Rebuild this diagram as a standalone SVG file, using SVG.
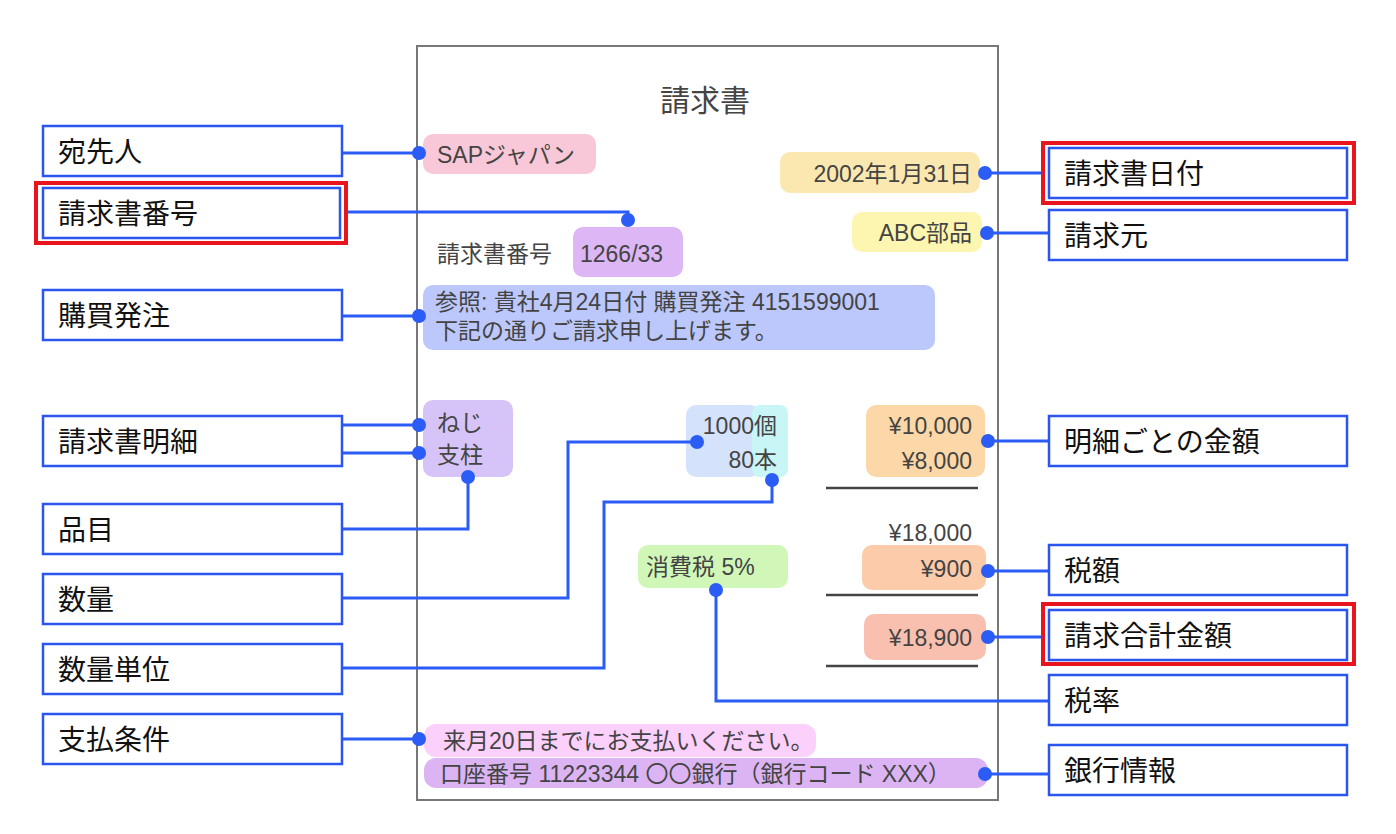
<svg xmlns="http://www.w3.org/2000/svg" width="1396" height="834" viewBox="0 0 1396 834">
<style>
text{font-family:"Liberation Sans","Noto Sans CJK JP",sans-serif;fill:#444}
.lb rect{fill:#fff;stroke:#2b55f0;stroke-width:2.5}
.lb text{font-size:28px;fill:#111}
.lb rect.red{fill:none;stroke:#e8141e;stroke-width:4}
.hl text{font-size:23px}
.c path{fill:none;stroke:#2b5cf5;stroke-width:3}
.c circle{fill:#2b5cf5}
.rule{stroke:#444;stroke-width:2.5}
</style>
<rect width="1396" height="834" fill="#fff"/>
<g id="doc">
<rect x="417" y="46" width="581" height="754" fill="#fff" stroke="#777" stroke-width="2"/>
<text x="705" y="111" font-size="30" text-anchor="middle">請求書</text>
<line class="rule" x1="826" y1="488" x2="978" y2="488"/>
<line class="rule" x1="826" y1="595" x2="978" y2="595"/>
<line class="rule" x1="826" y1="666" x2="978" y2="666"/>
</g>
<g id="highlights" class="hl">
<rect x="423" y="134" width="173" height="40" rx="10" fill="#f9c8d8"/><text x="437" y="163">SAPジャパン</text>
<rect x="780" y="152" width="200" height="41" rx="10" fill="#fbe8b0"/><text x="972" y="182" text-anchor="end">2002年1月31日</text>
<rect x="852" y="212" width="130" height="40" rx="10" fill="#fcf6b0"/><text x="972" y="241" text-anchor="end">ABC部品</text>
<text x="437" y="262" font-size="24">請求書番号</text>
<rect x="573" y="227" width="110" height="50" rx="10" fill="#dcb6f5"/><text x="580" y="262">1266/33</text>
<rect x="423" y="285" width="512" height="65" rx="10" fill="#bcc8fb"/><text x="435" y="310" font-size="20.5">参照: 貴社4月24日付 購買発注 4151599001</text><text x="435" y="339" font-size="20.5">下記の通りご請求申し上げます。</text>
<rect x="423" y="400" width="90" height="77" rx="10" fill="#d6c4f8"/><text x="437" y="431" font-size="24">ねじ</text><text x="437" y="463" font-size="24">支柱</text>
<rect x="686" y="405" width="74" height="72" rx="10" fill="#d5e2fb"/>
<rect x="752" y="405" width="36" height="72" rx="8" fill="#c8f5f5"/>
<text x="754" y="434" font-size="24" text-anchor="end">1000</text><text x="754" y="468" font-size="24" text-anchor="end">80</text>
<text x="754" y="434" font-size="24">個</text><text x="754" y="468" font-size="24">本</text>
<rect x="866" y="405" width="119" height="72" rx="10" fill="#fcd8a8"/><text x="972" y="434" font-size="24" text-anchor="end">¥10,000</text><text x="972" y="469" font-size="24" text-anchor="end">¥8,000</text>
<text x="972" y="541" font-size="24" text-anchor="end">¥18,000</text>
<rect x="862" y="545" width="124" height="45" rx="10" fill="#fccbaa"/><text x="972" y="577" font-size="24" text-anchor="end">¥900</text>
<rect x="638" y="545" width="150" height="43" rx="10" fill="#d0f7b8"/><text x="646" y="575" font-size="24" fill="#4a6a3a">消費税 5%</text>
<rect x="864" y="614" width="122" height="46" rx="10" fill="#f9c0b0"/><text x="972" y="646" font-size="24" text-anchor="end">¥18,900</text>
<rect x="424" y="724" width="392" height="33" rx="12" fill="#fbd0fb"/><text x="443" y="749" font-size="21">来月20日までにお支払いください。</text>
<rect x="424" y="758" width="564" height="30" rx="12" fill="#dcb4f3"/><text x="440" y="782" font-size="21">口座番号 11223344 〇〇銀行（銀行コード XXX）</text>
</g>
<g id="connectors" class="c">
<path d="M342 153H419"/><circle cx="419" cy="153" r="7"/>
<path d="M346 212H628V220"/><circle cx="628" cy="220" r="7"/>
<path d="M342 316H419"/><circle cx="419" cy="316" r="7"/>
<path d="M342 425H419M342 453H419"/><circle cx="419" cy="425" r="7"/><circle cx="419" cy="453" r="7"/>
<path d="M342 529H468V477"/><circle cx="468" cy="477" r="7"/>
<path d="M342 598H568V442H697"/><circle cx="697" cy="442" r="7"/>
<path d="M342 668H604V502H772V480"/><circle cx="772" cy="480" r="7"/>
<path d="M342 739H419"/><circle cx="419" cy="739" r="7"/>
<path d="M985 173H1043"/><circle cx="985" cy="173" r="7"/>
<path d="M987 233H1049"/><circle cx="987" cy="233" r="7"/>
<path d="M988 441H1049"/><circle cx="988" cy="441" r="7"/>
<path d="M988 571H1049"/><circle cx="988" cy="571" r="7"/>
<path d="M988 637H1043"/><circle cx="988" cy="637" r="7"/>
<path d="M716 590V701H1049"/><circle cx="716" cy="590" r="7"/>
<path d="M985 774H1049"/><circle cx="985" cy="774" r="7"/>
</g>
<g id="n-atesaki" class="lb"><rect x="43" y="126" width="299" height="50"/><text x="58" y="162">宛先人</text></g>
<g id="n-bango" class="lb"><rect class="red" x="36" y="183" width="310" height="60"/><rect x="43" y="188" width="297" height="50"/><text x="58" y="224">請求書番号</text></g>
<g id="n-hatchu" class="lb"><rect x="43" y="290" width="299" height="50"/><text x="58" y="326">購買発注</text></g>
<g id="n-meisai" class="lb"><rect x="43" y="416" width="299" height="50"/><text x="58" y="452">請求書明細</text></g>
<g id="n-hinmoku" class="lb"><rect x="43" y="504" width="299" height="50"/><text x="58" y="540">品目</text></g>
<g id="n-suryo" class="lb"><rect x="43" y="574" width="299" height="50"/><text x="58" y="610">数量</text></g>
<g id="n-tani" class="lb"><rect x="43" y="644" width="299" height="50"/><text x="58" y="680">数量単位</text></g>
<g id="n-joken" class="lb"><rect x="43" y="714" width="299" height="50"/><text x="58" y="750">支払条件</text></g>
<g id="n-hizuke" class="lb"><rect class="red" x="1043" y="143" width="311" height="60"/><rect x="1049" y="148" width="298" height="50"/><text x="1064" y="184">請求書日付</text></g>
<g id="n-moto" class="lb"><rect x="1049" y="210" width="298" height="50"/><text x="1064" y="246">請求元</text></g>
<g id="n-kingaku" class="lb"><rect x="1049" y="416" width="298" height="50"/><text x="1064" y="452">明細ごとの金額</text></g>
<g id="n-zeigaku" class="lb"><rect x="1049" y="545" width="298" height="50"/><text x="1064" y="581">税額</text></g>
<g id="n-gokei" class="lb"><rect class="red" x="1043" y="604" width="311" height="60"/><rect x="1049" y="610" width="298" height="50"/><text x="1064" y="646">請求合計金額</text></g>
<g id="n-zeiritsu" class="lb"><rect x="1049" y="675" width="298" height="50"/><text x="1064" y="711">税率</text></g>
<g id="n-ginko" class="lb"><rect x="1049" y="745" width="298" height="50"/><text x="1064" y="781">銀行情報</text></g>
</svg>
